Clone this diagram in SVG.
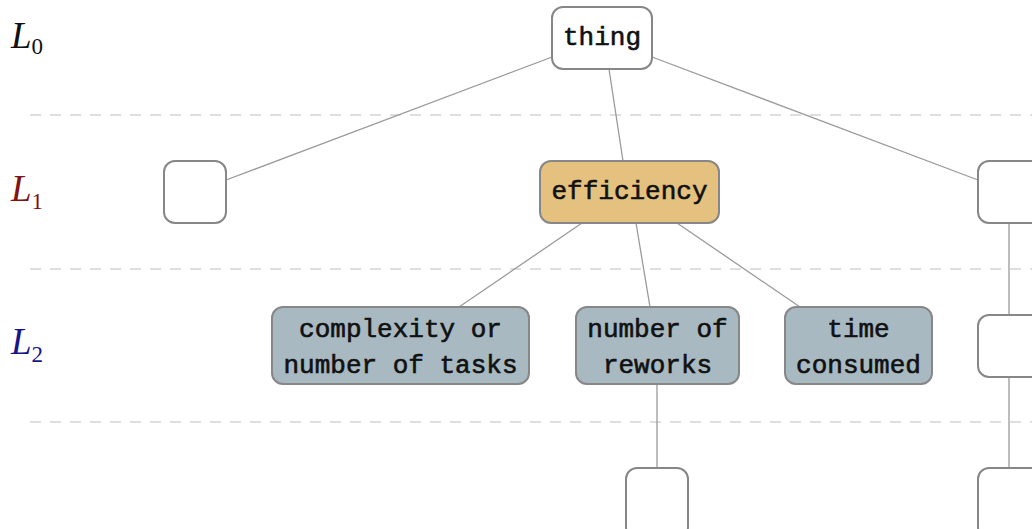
<svg xmlns="http://www.w3.org/2000/svg" width="1032" height="529" viewBox="0 0 1032 529">
<style>
.bg{fill:#ffffff}
.sep{stroke:#d3d3d3;stroke-width:1.5;stroke-dasharray:11 9;fill:none}
.edge{stroke:#9a9a9a;stroke-width:1.3;fill:none}
.box{stroke:#878787;stroke-width:2}
.empty{fill:#ffffff}
.l0{fill:#ffffff}
.l1{fill:#e4c17f}
.l2{fill:#a8b9c2}
.t{font-family:"Liberation Mono","DejaVu Sans Mono",monospace;font-size:26px;font-weight:normal;fill:#111;stroke:#111;stroke-width:0.6;text-anchor:middle}
.lvl{font-family:"Liberation Serif","DejaVu Serif",serif;font-style:italic;font-size:37px}
.sub{font-family:"Liberation Serif",serif;font-style:normal;font-size:23px}
</style>
<rect class="bg" x="0" y="0" width="1032" height="529"/>
<g id="separators">
<line class="sep" x1="30" y1="115" x2="1032" y2="115"/>
<line class="sep" x1="30" y1="269" x2="1032" y2="269"/>
<line class="sep" x1="30" y1="422" x2="1032" y2="422"/>
</g>
<g id="levels">
<text class="lvl" x="11" y="48" fill="#111">L<tspan class="sub" font-family="Liberation Sans,sans-serif" dy="6">0</tspan></text>
<text class="lvl" x="11" y="201" fill="#7f1414">L<tspan class="sub" dy="8">1</tspan></text>
<text class="lvl" x="11" y="354" fill="#16168a">L<tspan class="sub" dy="8">2</tspan></text>
</g>
<g id="connectors">
<line class="edge" x1="552" y1="57" x2="226" y2="180"/>
<line class="edge" x1="609" y1="69" x2="623" y2="161"/>
<line class="edge" x1="652" y1="57" x2="978" y2="180"/>
<line class="edge" x1="582" y1="223" x2="459" y2="307"/>
<line class="edge" x1="636" y1="223" x2="650" y2="307"/>
<line class="edge" x1="677" y1="223" x2="800" y2="307"/>
<line class="edge" x1="657" y1="384" x2="657" y2="468"/>
<line class="edge" x1="1009" y1="223" x2="1009" y2="315"/>
<line class="edge" x1="1009" y1="377" x2="1009" y2="468"/>
</g>
<g id="node-thing">
<rect class="box l0" x="552" y="7" width="100" height="62" rx="11"/>
<text class="t" x="602" y="45">thing</text>
</g>
<g id="node-l1-left">
<rect class="box empty" x="164" y="161" width="62" height="62" rx="11"/>
</g>
<g id="node-efficiency">
<rect class="box l1" x="540" y="161" width="179" height="62" rx="11"/>
<text class="t" x="629.5" y="199">efficiency</text>
</g>
<g id="node-l1-right">
<rect class="box empty" x="978" y="161" width="70" height="62" rx="11"/>
</g>
<g id="node-complexity">
<rect class="box l2" x="272" y="307" width="257" height="77" rx="11"/>
<text class="t" x="400.5" y="337">complexity or</text>
<text class="t" x="400.5" y="373">number of tasks</text>
</g>
<g id="node-reworks">
<rect class="box l2" x="576" y="307" width="163" height="77" rx="11"/>
<text class="t" x="657.5" y="337">number of</text>
<text class="t" x="657.5" y="373">reworks</text>
</g>
<g id="node-time">
<rect class="box l2" x="785" y="307" width="147" height="77" rx="11"/>
<text class="t" x="858.5" y="337">time</text>
<text class="t" x="858.5" y="373">consumed</text>
</g>
<g id="node-l2-right">
<rect class="box empty" x="978" y="315" width="70" height="62" rx="11"/>
</g>
<g id="node-l3-mid">
<rect class="box empty" x="626" y="468" width="62" height="70" rx="11"/>
</g>
<g id="node-l3-right">
<rect class="box empty" x="978" y="468" width="70" height="70" rx="11"/>
</g>
</svg>
